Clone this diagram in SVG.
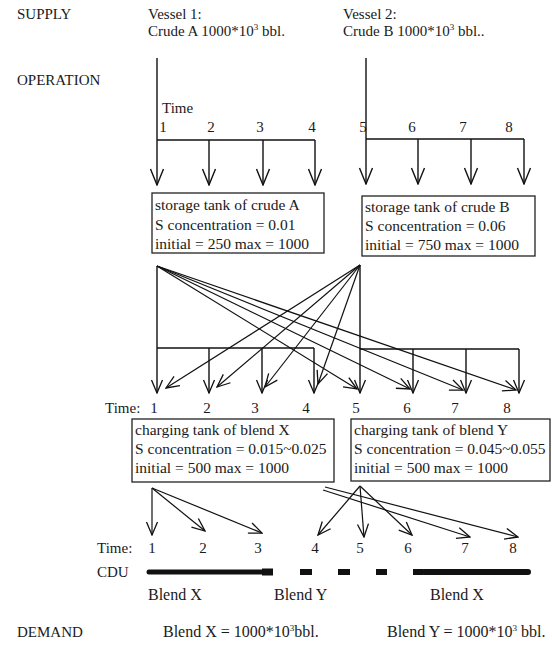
<svg xmlns="http://www.w3.org/2000/svg" width="552" height="653" viewBox="0 0 552 653">
<style>
text{font-family:"Liberation Serif","Times New Roman",serif;font-size:15px;fill:#1a1a1a}
.bt{font-size:15.5px}
.lg{font-size:16px}
.box{fill:#fff;stroke:#222;stroke-width:1.3}
.ln{fill:none;stroke:#111;stroke-width:1.4}
.lt{fill:none;stroke:#111;stroke-width:1.2}
.num{text-anchor:middle}
</style>
<defs>
<marker id="big" markerUnits="userSpaceOnUse" markerWidth="18" markerHeight="16" viewBox="-17 -8 18 16" refX="0" refY="0" orient="auto"><path d="M-16,-6.5 L0,0 L-16,6.5" fill="none" stroke="#111" stroke-width="1.4"/></marker>
<marker id="sm" markerUnits="userSpaceOnUse" markerWidth="15" markerHeight="14" viewBox="-14 -7 15 14" refX="0" refY="0" orient="auto"><path d="M-13,-5.5 L0,0 L-13,5.5" fill="none" stroke="#111" stroke-width="1.3"/></marker>
</defs>
<rect width="552" height="653" fill="#fff"/>

<g id="stage-labels">
<text x="17" y="19">SUPPLY</text>
<text x="17" y="85">OPERATION</text>
<text x="17" y="637">DEMAND</text>
</g>

<g id="vessel1">
<text x="148" y="19">Vessel 1:</text>
<text x="148" y="36">Crude A 1000*10<tspan font-size="9" dy="-6">3</tspan><tspan dy="6"> bbl.</tspan></text>
</g>
<g id="vessel2">
<text x="343" y="19">Vessel 2:</text>
<text x="343" y="36">Crude B 1000*10<tspan font-size="9" dy="-6">3</tspan><tspan dy="6"> bbl..</tspan></text>
</g>

<g id="time-row-1">
<text x="162" y="113">Time</text>
<text class="num" x="163" y="132">1</text>
<text class="num" x="211" y="132">2</text>
<text class="num" x="260" y="132">3</text>
<text class="num" x="312" y="132">4</text>
<text class="num" x="363" y="132">5</text>
<text class="num" x="412" y="132">6</text>
<text class="num" x="463" y="132">7</text>
<text class="num" x="509" y="132">8</text>
</g>

<g id="tankA">
<rect class="box" x="152" y="193" width="172" height="60"/>
<text class="bt" x="155" y="210">storage tank of crude A</text>
<text class="bt" x="155" y="230">S concentration = 0.01</text>
<text class="bt" x="155" y="249">initial = 250 max = 1000</text>
</g>
<g id="tankB">
<rect class="box" x="362" y="196" width="173" height="60"/>
<text class="bt" x="365" y="212">storage tank of crude B</text>
<text class="bt" x="365" y="231">S concentration = 0.06</text>
<text class="bt" x="365" y="250">initial = 750 max = 1000</text>
</g>

<g id="time-row-2">
<text x="105" y="413">Time:</text>
<text class="num" x="154" y="413">1</text>
<text class="num" x="207" y="413">2</text>
<text class="num" x="255" y="413">3</text>
<text class="num" x="306" y="413">4</text>
<text class="num" x="356" y="413">5</text>
<text class="num" x="407" y="413">6</text>
<text class="num" x="455" y="413">7</text>
<text class="num" x="507" y="413">8</text>
</g>

<g id="tankX">
<rect class="box" x="132" y="419" width="202" height="63"/>
<text class="bt" x="135" y="435">charging tank of blend X</text>
<text class="bt" x="135" y="454">S concentration = 0.015~0.025</text>
<text class="bt" x="135" y="473">initial = 500 max = 1000</text>
</g>
<g id="tankY">
<rect class="box" x="351" y="419" width="199" height="62"/>
<text class="bt" x="354" y="435">charging tank of blend Y</text>
<text class="bt" x="354" y="454">S concentration = 0.045~0.055</text>
<text class="bt" x="354" y="473">initial = 500 max = 1000</text>
</g>

<g id="time-row-3">
<text x="97" y="553">Time:</text>
<text class="num" x="152" y="553">1</text>
<text class="num" x="203" y="553">2</text>
<text class="num" x="258" y="553">3</text>
<text class="num" x="315" y="553">4</text>
<text class="num" x="360" y="553">5</text>
<text class="num" x="408" y="553">6</text>
<text class="num" x="465" y="553">7</text>
<text class="num" x="513" y="553">8</text>
</g>

<g id="cdu">
<text x="97" y="577">CDU</text>
<line x1="149" y1="572" x2="264" y2="572" stroke="#111" stroke-width="5" stroke-linecap="round"/>
<rect x="262" y="568.5" width="11" height="7" fill="#111"/>
<rect x="300" y="569" width="12" height="6" fill="#111"/>
<rect x="338" y="569" width="12" height="6" fill="#111"/>
<rect x="376" y="569" width="11" height="6" fill="#111"/>
<rect x="413" y="569" width="10" height="6" fill="#111"/>
<line x1="424" y1="572" x2="528" y2="572" stroke="#111" stroke-width="6" stroke-linecap="round"/>
<text class="lg" x="148" y="600">Blend X</text>
<text class="lg" x="274" y="600">Blend Y</text>
<text class="lg" x="430" y="600">Blend X</text>
</g>

<g id="demand">
<text class="lg" x="163" y="637">Blend X = 1000*10<tspan font-size="9" dy="-6">3</tspan><tspan dy="6">bbl.</tspan></text>
<text class="lg" x="387" y="637">Blend Y = 1000*10<tspan font-size="9" dy="-6">3</tspan><tspan dy="6"> bbl.</tspan></text>
</g>

<g id="connectors">
<path class="ln" d="M157,58 V185" marker-end="url(#big)"/>
<path class="ln" d="M157,140 H315"/>
<path class="ln" d="M209,140 V185" marker-end="url(#big)"/>
<path class="ln" d="M263,140 V185" marker-end="url(#big)"/>
<path class="ln" d="M315,140 V185" marker-end="url(#big)"/>
<path class="ln" d="M366,58 V184" marker-end="url(#big)"/>
<path class="ln" d="M366,139 H524"/>
<path class="ln" d="M418,139 V184" marker-end="url(#big)"/>
<path class="ln" d="M471,139 V184" marker-end="url(#big)"/>
<path class="ln" d="M524,139 V184" marker-end="url(#big)"/>
<path class="ln" d="M157,266 V393" marker-end="url(#sm)"/>
<path class="ln" d="M157,348 H314"/>
<path class="ln" d="M209,348 V393" marker-end="url(#sm)"/>
<path class="ln" d="M262,348 V393" marker-end="url(#sm)"/>
<path class="ln" d="M314,348 V393" marker-end="url(#sm)"/>
<path class="lt" d="M157,266 L357,389" marker-end="url(#sm)"/>
<path class="lt" d="M157,266 L410,389" marker-end="url(#sm)"/>
<path class="lt" d="M157,266 L463,390" marker-end="url(#sm)"/>
<path class="lt" d="M157,266 L516,390" marker-end="url(#sm)"/>
<path class="ln" d="M360,265 V393" marker-end="url(#sm)"/>
<path class="ln" d="M360,349 H519"/>
<path class="ln" d="M413,349 V393" marker-end="url(#sm)"/>
<path class="ln" d="M466,349 V393" marker-end="url(#sm)"/>
<path class="ln" d="M519,349 V393" marker-end="url(#sm)"/>
<path class="lt" d="M360,265 L166,388" marker-end="url(#sm)"/>
<path class="lt" d="M360,265 L217,387" marker-end="url(#sm)"/>
<path class="lt" d="M360,265 L265,387" marker-end="url(#sm)"/>
<path class="lt" d="M360,265 L318,384" marker-end="url(#sm)"/>
<path class="lt" d="M152,488 V535" marker-end="url(#sm)"/>
<path class="lt" d="M152,488 L205,531" marker-end="url(#sm)"/>
<path class="lt" d="M152,488 L262,533" marker-end="url(#sm)"/>
<path class="lt" d="M360,486 L318,535" marker-end="url(#sm)"/>
<path class="lt" d="M360,486 L364,537" marker-end="url(#sm)"/>
<path class="lt" d="M360,486 L412,535" marker-end="url(#sm)"/>
<path class="lt" d="M323,490 L470,537" marker-end="url(#sm)"/>
<path class="lt" d="M325,487 L518,537" marker-end="url(#sm)"/>
</g>
</svg>
